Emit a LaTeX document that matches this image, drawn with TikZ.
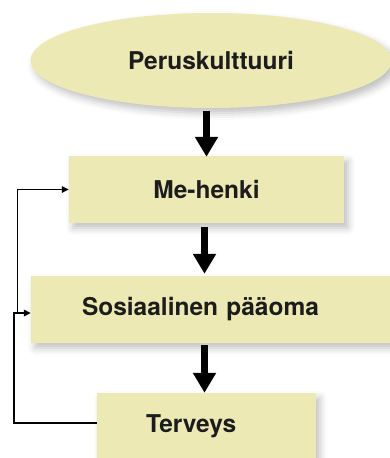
\documentclass[tikz,border=0pt]{standalone}
\usepackage{fontspec}
\setmainfont{TeX Gyre Heros}
\usetikzlibrary{arrows.meta,shapes.geometric,shadows.blur,calc}
\definecolor{boxfill}{RGB}{236,233,180}
\definecolor{ink}{RGB}{28,28,28}
\begin{document}
\begin{tikzpicture}[x=1pt,y=-1pt,
  softshadow/.style={blur shadow={shadow xshift=4pt,shadow yshift=-5pt,
      shadow blur radius=7pt,shadow opacity=25}},
  lbl/.style={font=\bfseries\fontsize{24.5}{27}\selectfont,text=ink},
  stagebox/.style={rectangle,fill=boxfill,draw=none,inner sep=0pt,softshadow,lbl},
  stageoval/.style={ellipse,fill=boxfill,draw=none,inner sep=0pt,softshadow,lbl},
  bigarrow/.style={line width=7.6pt,-{Triangle[width=22pt,length=20pt]}},
  loopline/.style={line width=2pt,-{Triangle[width=6.5pt,length=7pt]}},
  branchline/.style={line width=1.5pt,-{Triangle[width=6.5pt,length=7pt]}}]
\useasboundingbox (0,0) rectangle (390,458);

% stages
\node[stageoval,minimum width=361pt,minimum height=95pt] (peru) at (211,60.5) {Peruskulttuuri};
\node[stagebox,minimum width=275pt,minimum height=67pt] (mehenki) at (206.5,189.5) {Me-henki};
\node[stagebox,minimum width=361pt,minimum height=67pt,inner xsep=51pt,
      text width=259pt,align=left] (sos) at (211.5,309.5) {Sosiaalinen pääoma};
\node[stagebox,minimum width=219pt,minimum height=66pt,inner xsep=49pt,
      text width=121pt,align=left] (terveys) at (206.5,426) {Terveys};

% main chain
\draw[bigarrow] ([yshift=-2.5pt]peru.south -| mehenki.north) -- ([yshift=-1pt]mehenki.north);
\draw[bigarrow] ([xshift=-2pt,yshift=-4pt]mehenki.south) -- ([xshift=-2pt,yshift=2pt]mehenki.south |- sos.north);
\draw[bigarrow] ([xshift=-2pt,yshift=-2pt]mehenki.south |- sos.south) -- ([xshift=-2pt]mehenki.south |- terveys.north);

% feedback loop
\coordinate (loopA) at (14.3,313);
\coordinate (loopB) at (17.3,313);
\draw[loopline] ([yshift=3pt]terveys.west) -| (loopA) -- ([yshift=-3.5pt]sos.west);
\draw[branchline] (loopB) |- (mehenki.west);
\end{tikzpicture}
\end{document}
